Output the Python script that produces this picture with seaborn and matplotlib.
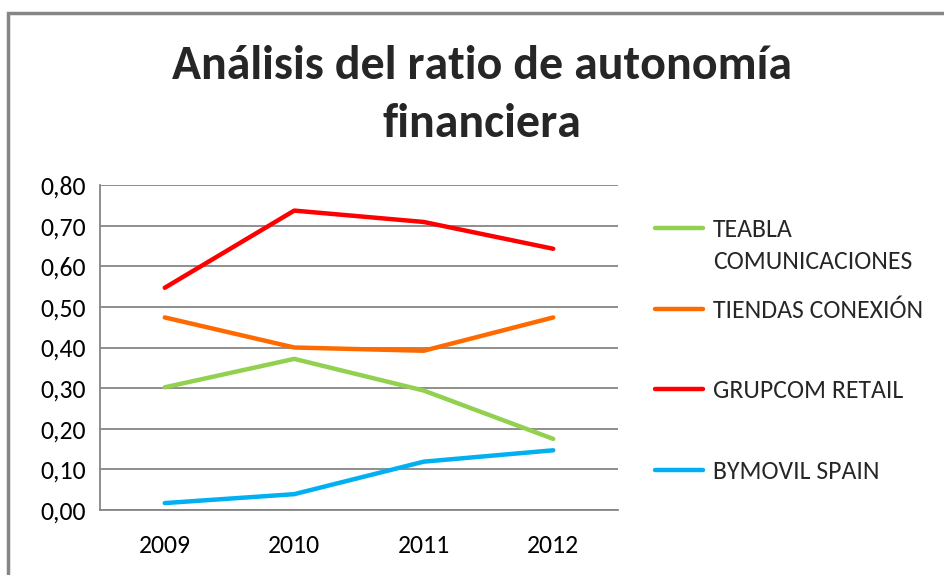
import matplotlib
matplotlib.use("Agg")
import matplotlib.pyplot as plt
import seaborn as sns
import pandas as pd
from matplotlib.patches import Rectangle
from matplotlib.lines import Line2D
from matplotlib.ticker import FuncFormatter
from matplotlib import font_manager

years = ["2009", "2010", "2011", "2012"]
teabla = [0.302, 0.372, 0.294, 0.175]
tiendas = [0.474, 0.400, 0.392, 0.474]
grupcom = [0.547, 0.737, 0.709, 0.643]
bymovil = [0.017, 0.039, 0.119, 0.147]
series_names = ["TEABLA COMUNICACIONES", "TIENDAS CONEXIÓN", "GRUPCOM RETAIL", "BYMOVIL SPAIN"]
colors = ["#92D050", "#FF6A00", "#FF0000", "#00B0F0"]
yticks = [0.0, 0.1, 0.2, 0.3, 0.4, 0.5, 0.6, 0.7, 0.8]
title_text = "Análisis del ratio de autonomía\nfinanciera"

sns.set_style("white")
names = {f.name for f in font_manager.fontManager.ttflist}
narrow = [f for f in ["Carlito", "Liberation Sans Narrow"] if f in names]
plt.rcParams['font.family'] = narrow + ["Liberation Sans", "DejaVu Sans"]

rows = []
for name, vals in zip(series_names, [teabla, tiendas, grupcom, bymovil]):
    for y, v in zip(years, vals):
        rows.append({"Año": y, "Ratio": v, "Empresa": name})
df = pd.DataFrame(rows)

fig = plt.figure(figsize=(9.44, 5.75), dpi=100)
ax = fig.add_axes([100/944, 1-510/575, 518/944, 325/575])

sns.lineplot(data=df, x="Año", y="Ratio", hue="Empresa", palette=dict(zip(series_names, colors)),
             linewidth=3.2, ax=ax, sort=False, legend=False)

ax.set_xlim(-0.5, 3.5)
ax.set_ylim(0, 0.8)
ax.set_yticks(yticks)
ax.yaxis.set_major_formatter(FuncFormatter(lambda v, p: f"{v:.2f}".replace(".", ",")))
ax.grid(axis="y", color="#868686", linewidth=1.3)
ax.set_axisbelow(True)
for s in ["top", "right"]:
    ax.spines[s].set_visible(False)
for s in ["left", "bottom"]:
    ax.spines[s].set_color("#868686")
    ax.spines[s].set_linewidth(1.3)
ax.tick_params(axis="both", length=0, labelsize=18.5, colors="black")
ax.tick_params(axis="y", pad=10)
ax.tick_params(axis="x", pad=17)
ax.set_xlabel("")
ax.set_ylabel("")

handles = [Line2D([0], [0], color=c, linewidth=3.2) for c in colors]
leg_labels = [n.split(" ")[0] if i == 0 else n for i, n in enumerate(series_names)]
leg = fig.legend(handles, leg_labels, loc="upper left", bbox_to_anchor=(655/944, 1-218/575),
                 frameon=False, fontsize=18.5, handlelength=1.85, handletextpad=0.4,
                 labelspacing=2.24, borderpad=0, borderaxespad=0)
fig.canvas.draw()
t0 = leg.get_texts()[0]
bb = t0.get_window_extent().transformed(fig.transFigure.inverted())
fig.text(bb.x0, bb.y0 - 32/575, series_names[0].split(" ", 1)[1], fontsize=18.5,
         ha="left", va="bottom")

fig.text(482/944, 1-95/575, title_text, ha="center", va="center", fontsize=34.5,
         fontweight="bold", linespacing=1.45)

fig.patches.append(Rectangle((8/944, -0.1), 1.2, 1-13/575+0.1, transform=fig.transFigure,
                             fill=False, edgecolor="#868686", linewidth=2.5))

fig.savefig("out.png", dpi=100)
